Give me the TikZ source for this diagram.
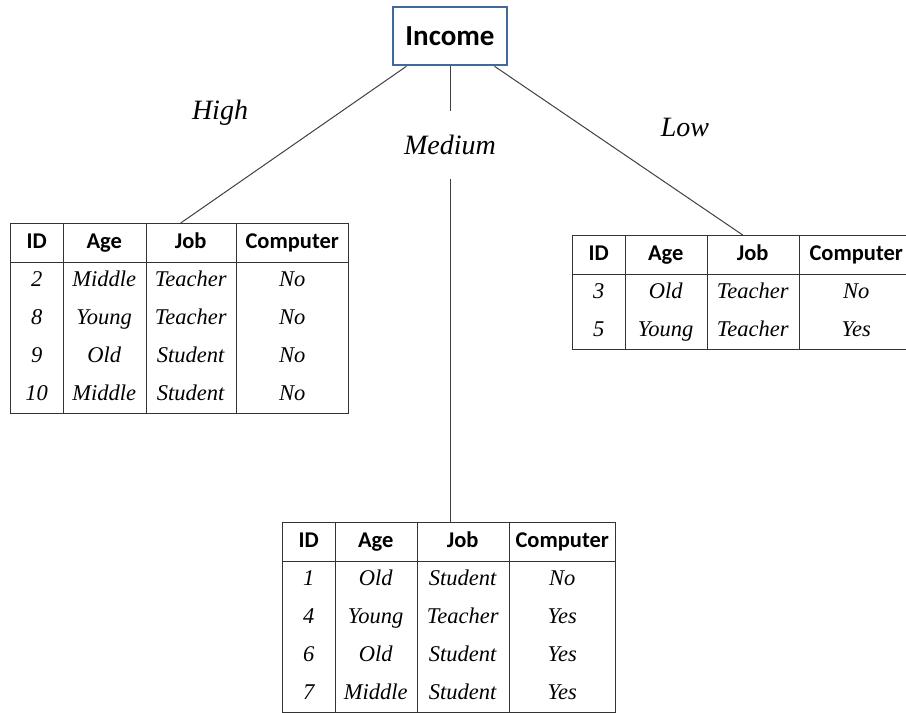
\documentclass[tikz,border=0pt]{standalone}
\usepackage{fontspec}
\usepackage{tikz}
\usetikzlibrary{matrix}
\setmainfont{Liberation Serif}
\newfontfamily\headfont{Carlito}
\definecolor{boxblue}{HTML}{41699B}
\def\cellfont{\fontsize{22.5}{27}\selectfont\itshape}
\def\headcell{\fontsize{22.5}{27}\selectfont\headfont\bfseries}

\begin{document}
\begin{tikzpicture}[x=1pt,y=-1pt,
				branch/.style={draw=black!75, line width=1pt},
				branchlabel/.style={font=\fontsize{28}{32}\selectfont\itshape},
				rootbox/.style={draw=boxblue, line width=2.6pt, fill=white, minimum width=114pt, minimum height=58pt, font=\fontsize{29}{34}\selectfont\headfont\bfseries},
				tabline/.style={draw=black!80, line width=1pt},
				headrule/.style={draw=black!80, line width=1.4pt},
				datatable/.style n args={4}{matrix of nodes, ampersand replacement=\&, anchor=north west,
					inner sep=0pt, draw=black!80, line width=1.4pt,
					nodes={anchor=center, inner sep=0pt, text height=16pt, text depth=5pt, minimum height=38pt, align=center, font=\cellfont},
					row 1/.style={nodes={font=\headcell}},
					column 1/.style={nodes={text width=#1}},
					column 2/.style={nodes={text width=#2}},
					column 3/.style={nodes={text width=#3}},
					column 4/.style={nodes={text width=#4}}}]
			\clip (0,0) rectangle (906,713);
			\node[rootbox] (income) at (450,36) {Income};
			\node[branchlabel] (high) at (220,113) {High};
			\node[branchlabel, inner ysep=24pt] (medium) at (450,145) {Medium};
			\node[branchlabel] (low) at (685,127) {Low};

			\matrix (hightab) [datatable={52pt}{83pt}{90pt}{113pt}] at (10,223) {
				ID \& Age \& Job \& Computer \\
				2 \& Middle \& Teacher \& No \\
				8 \& Young \& Teacher \& No \\
				9 \& Old \& Student \& No \\
				10 \& Middle \& Student \& No \\
			};
			\matrix (lowtab) [datatable={52pt}{82pt}{92pt}{115pt}] at (572,235) {
				ID \& Age \& Job \& Computer \\
				3 \& Old \& Teacher \& No \\
				5 \& Young \& Teacher \& Yes \\
			};
			\matrix (midtab) [datatable={52pt}{82pt}{92pt}{107pt}] at (282,522) {
				ID \& Age \& Job \& Computer \\
				1 \& Old \& Student \& No \\
				4 \& Young \& Teacher \& Yes \\
				6 \& Old \& Student \& Yes \\
				7 \& Middle \& Student \& Yes \\
			};

			\foreach \tab in {hightab, lowtab, midtab} {
				\foreach \c in {1,2,3}
					\draw[tabline] (\tab-1-\c.north east) -- (\tab-1-\c.north east |- \tab.south);
				\draw[headrule] (\tab-1-1.south west) -- (\tab-1-1.south west -| \tab.east);
			}

			\draw[branch] (income) -- ([xshift=-10pt]hightab-1-3.north);
			\draw[branch] (income) -- (medium);
			\draw[branch] (medium) -- (medium |- midtab.north);
			\draw[branch] (income) -- ([xshift=-10pt]lowtab-1-3.north);
			\node[rootbox] at (income) {Income};
		\end{tikzpicture}
\end{document}
